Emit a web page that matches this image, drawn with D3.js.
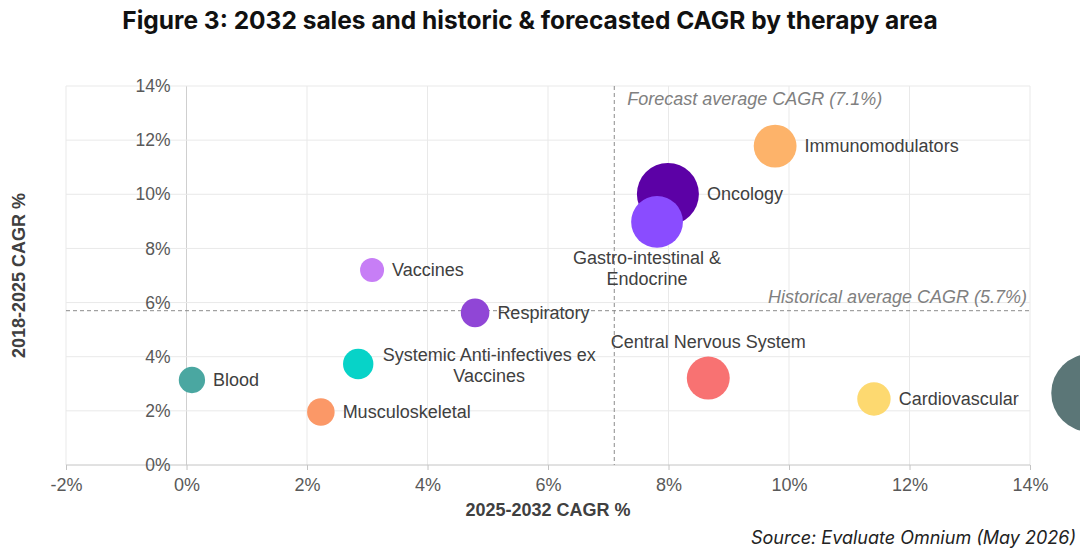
<!DOCTYPE html>
<html>
<head>
<meta charset="utf-8">
<script src="https://cdn.jsdelivr.net/npm/d3@7"></script>
<style>
  body { margin: 0; background: #fff; }
  text { font-family: "Liberation Sans", Arial, sans-serif; }
</style>
</head>
<body>
<div id="container"></div>
<script>
/* DATA: 2032 sales bubbles, x = 2025-2032 CAGR %, y = 2018-2025 CAGR % */
const areas = ["Immunomodulators", "Oncology", "Gastro-intestinal & Endocrine", "Vaccines",
  "Respiratory", "Systemic Anti-infectives ex Vaccines", "Blood", "Musculoskeletal",
  "Central Nervous System", "Cardiovascular", ""];
const forecastCagr = [9.77, 7.99, 7.81, 3.08, 4.79, 2.85, 0.09, 2.23, 8.66, 11.41, 15.0];
const historicCagr = [11.78, 10.01, 8.98, 7.2, 5.62, 3.73, 3.14, 1.96, 3.21, 2.44, 2.66];
const sales2032 = [191, 400, 279, 60, 85, 96, 72, 79, 192, 116, 633];
const colors = ["#fdb36a", "#5c01a6", "#8a4cff", "#c77ef6", "#9046d6", "#07d3c8",
  "#4aa7a1", "#fb9867", "#f87272", "#fdd970", "#5b7677"];

const xTicks = [-2, 0, 2, 4, 6, 8, 10, 12, 14];
const yTicks = [0, 2, 4, 6, 8, 10, 12, 14];
const forecastAvg = 7.1;
const historicAvg = 5.7;

/* CONSTANTS */
const width = 1080, height = 557;
const margin = { top: 86, bottom: 92, left: 66, right: 50 };
const labelColor = "#404040";
const fs = "18px";

const data = areas.map((a, i) => ({
  name: a, x: forecastCagr[i], y: historicCagr[i], sales: sales2032[i], color: colors[i]
}));

/* SCALES */
const xScale = d3.scaleLinear().domain([-2, 14]).range([margin.left, width - margin.right]);
const yScale = d3.scaleLinear().domain([0, 14]).range([height - margin.bottom, margin.top]);
const rScale = d3.scaleSqrt().domain([0, 400]).range([0, 31]);

const svg = d3.select("#container").append("svg")
  .attr("width", width).attr("height", height);

/* title + source */
svg.append("text")
  .attr("x", 530).attr("y", 29)
  .attr("text-anchor", "middle")
  .style("font-family", "Inter, Roboto, sans-serif")
  .style("font-weight", 700).style("font-size", "24.5px").style("fill", "#111")
  .text("Figure 3: 2032 sales and historic & forecasted CAGR by therapy area");

svg.append("text")
  .attr("x", 1076).attr("y", 544)
  .attr("text-anchor", "end")
  .style("font-family", "Inter, Roboto, sans-serif")
  .style("font-style", "italic").style("font-size", "18px").style("fill", "#222")
  .text("Source: Evaluate Omnium (May 2026)");

/* gridlines */
svg.append("g").selectAll("line").data(xTicks).join("line")
  .attr("x1", d => xScale(d)).attr("x2", d => xScale(d))
  .attr("y1", yScale(14)).attr("y2", yScale(0))
  .attr("stroke", d => d === 0 ? "#cfcfcf" : "#e9e9e9").attr("stroke-width", 1);

svg.append("g").selectAll("line").data(yTicks).join("line")
  .attr("y1", d => yScale(d)).attr("y2", d => yScale(d))
  .attr("x1", xScale(-2)).attr("x2", xScale(14))
  .attr("stroke", d => d === 0 ? "#c4c4c4" : "#e9e9e9").attr("stroke-width", 1);

/* x axis (ticks below the 0% line) */
const xAxis = d3.axisBottom(xScale).tickValues(xTicks).tickSize(5).tickPadding(8)
  .tickFormat(d => d + "%");
const gx = svg.append("g").attr("transform", `translate(0, ${yScale(0)})`).call(xAxis);
gx.select(".domain").remove();
gx.selectAll(".tick line").attr("stroke", "#c4c4c4");
gx.selectAll(".tick text").style("font-size", fs).style("fill", "#595959")
  .style("font-family", "Liberation Sans, Arial, sans-serif");

/* y axis labels sit left of the 0% vertical line */
const yAxis = d3.axisLeft(yScale).tickValues(yTicks).tickSize(0).tickPadding(16)
  .tickFormat(d => d + "%");
const gy = svg.append("g").attr("transform", `translate(${xScale(0)}, 0)`).call(yAxis);
gy.select(".domain").remove();
gy.selectAll(".tick text").style("font-size", "17.5px").style("fill", "#595959")
  .style("font-family", "Liberation Sans, Arial, sans-serif");

/* axis titles */
svg.append("text")
  .attr("x", 548).attr("y", 516).attr("text-anchor", "middle")
  .style("font-weight", "bold").style("font-size", fs).style("fill", labelColor)
  .text("2025-2032 CAGR %");
svg.append("text")
  .attr("transform", `translate(25, ${(yScale(0) + yScale(14)) / 2}) rotate(-90)`)
  .attr("text-anchor", "middle")
  .style("font-weight", "bold").style("font-size", fs).style("fill", labelColor)
  .text("2018-2025 CAGR %");

/* average lines */
svg.append("line")
  .attr("x1", xScale(-2)).attr("x2", xScale(14))
  .attr("y1", yScale(historicAvg)).attr("y2", yScale(historicAvg))
  .attr("stroke", "#8c8c8c").attr("stroke-dasharray", "4,3");
svg.append("line")
  .attr("x1", xScale(forecastAvg)).attr("x2", xScale(forecastAvg))
  .attr("y1", yScale(14)).attr("y2", yScale(0))
  .attr("stroke", "#8c8c8c").attr("stroke-dasharray", "4,3");

svg.append("text")
  .attr("x", xScale(forecastAvg) + 13).attr("y", yScale(14) + 19)
  .style("font-style", "italic").style("font-size", fs).style("fill", "#808080")
  .text(`Forecast average CAGR (${forecastAvg}%)`);
svg.append("text")
  .attr("x", xScale(14) - 3).attr("y", yScale(historicAvg) - 8)
  .attr("text-anchor", "end")
  .style("font-style", "italic").style("font-size", fs).style("fill", "#808080")
  .text(`Historical average CAGR (${historicAvg}%)`);

/* bubbles */
svg.append("g").selectAll("circle").data(data).join("circle")
  .attr("cx", d => xScale(d.x))
  .attr("cy", d => yScale(d.y))
  .attr("r", d => rScale(d.sales))
  .style("fill", d => d.color);

/* labels: most sit right of the bubble, a few are placed by hand */
const special = {
  "Gastro-intestinal & Endocrine": { dx: -10, lines: ["Gastro-intestinal &", "Endocrine"], dy: [36, 57], anchor: "middle" },
  "Central Nervous System": { dx: 0, lines: ["Central Nervous System"], dy: [-36], anchor: "middle" },
  "Systemic Anti-infectives ex Vaccines": { dx: 131, lines: ["Systemic Anti-infectives ex", "Vaccines"], dy: [-9, 12], anchor: "middle" }
};

data.filter(d => d.name !== "").forEach(d => {
  const cx = xScale(d.x), cy = yScale(d.y), r = rScale(d.sales);
  const s = special[d.name];
  const t = svg.append("text")
    .style("font-size", fs).style("fill", labelColor)
    .attr("dominant-baseline", "central");
  if (s) {
    t.attr("text-anchor", s.anchor);
    s.lines.forEach((ln, i) => {
      t.append("tspan").attr("x", cx + s.dx).attr("y", cy + s.dy[i]).text(ln);
    });
  } else {
    t.attr("x", cx + r + 8).attr("y", cy).text(d.name);
  }
});
</script>
</body>
</html>
